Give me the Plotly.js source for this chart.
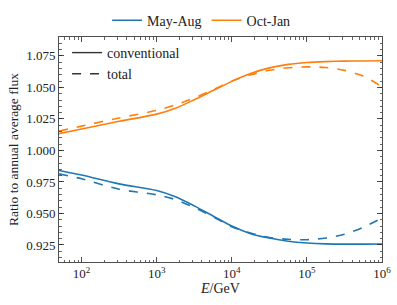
<!DOCTYPE html>
<html>
<head>
<meta charset="utf-8">
<script src="https://cdn.plot.ly/plotly-3.0.1.min.js"></script>
<style>html,body{margin:0;padding:0;background:#fff;}#chart{width:397px;height:305px;}</style>
</head>
<body>
<div id="chart"></div>
<script>
const energy = [50, 1e2, 3.16e2, 1e3, 1.78e3, 3.16e3, 5.62e3, 1e4, 1.78e4, 3.16e4, 5.62e4, 1e5, 1.78e5, 3.16e5, 5.62e5, 1e6];
const mayAugConv = [0.9841, 0.9805, 0.9735, 0.9682, 0.9632, 0.9560, 0.9480, 0.9400, 0.9340, 0.9305, 0.9280, 0.9266, 0.9259, 0.9257, 0.9257, 0.9258];
const mayAugTotal = [0.9814, 0.9775, 0.9692, 0.9648, 0.9610, 0.9548, 0.9474, 0.9395, 0.9345, 0.9310, 0.9295, 0.9292, 0.9305, 0.9335, 0.9390, 0.9464];
const octJanConv = [1.0133, 1.0170, 1.0231, 1.0288, 1.0335, 1.0402, 1.0475, 1.0548, 1.0610, 1.0655, 1.0683, 1.0698, 1.0705, 1.0709, 1.0710, 1.0711];
const octJanTotal = [1.0154, 1.0193, 1.0258, 1.0318, 1.0362, 1.0416, 1.0482, 1.0550, 1.0600, 1.0636, 1.0656, 1.0663, 1.0658, 1.0635, 1.0590, 1.0504];
const seriesNames = ['May-Aug', 'Oct-Jan'];
const styleNames = ['conventional', 'total'];
const xTickVals = [1e2, 1e3, 1e4, 1e5, 1e6];
const xTickText = ['10<sup>2</sup>', '10<sup>3</sup>', '10<sup>4</sup>', '10<sup>5</sup>', '10<sup>6</sup>'];
const yTickVals = [0.925, 0.950, 0.975, 1.000, 1.025, 1.050, 1.075];

const blue = '#1f77b4', orange = '#ff7f0e';
const minorX = [];
for (let d = 1; d <= 5; d++) for (let m = 2; m <= 9; m++) minorX.push(m * Math.pow(10, d));
const minorY = [];
for (let v = 0.915; v <= 1.0901; v += 0.005) minorY.push(+v.toFixed(3));

const traces = [
  {x: energy, y: mayAugConv, name: seriesNames[0], mode: 'lines', line: {color: blue, width: 1.6, shape: 'spline', smoothing: 0.8}, legend: 'legend'},
  {x: energy, y: octJanConv, name: seriesNames[1], mode: 'lines', line: {color: orange, width: 1.6, shape: 'spline', smoothing: 0.8}, legend: 'legend'},
  {x: energy, y: mayAugTotal, name: seriesNames[0] + ' total', mode: 'lines', line: {color: blue, width: 1.6, dash: 'dash', shape: 'spline', smoothing: 0.8}, showlegend: false},
  {x: energy, y: octJanTotal, name: seriesNames[1] + ' total', mode: 'lines', line: {color: orange, width: 1.6, dash: 'dash', shape: 'spline', smoothing: 0.8}, showlegend: false},
  {x: [null], y: [null], name: styleNames[0], mode: 'lines', line: {color: '#333', width: 1.4}, legend: 'legend2'},
  {x: [null], y: [null], name: styleNames[1], mode: 'lines', line: {color: '#333', width: 1.4, dash: 'dash'}, legend: 'legend2'}
];

const fam = '"Times New Roman", Times, "Liberation Serif", serif';
const font = {family: fam, size: 13, color: '#222'};
const layout = {
  width: 397, height: 305,
  margin: {l: 59, r: 15, t: 37, b: 43, autoexpand: false},
  paper_bgcolor: '#fff', plot_bgcolor: '#fff',
  font: font,
  showlegend: true,
  legend: {orientation: 'h', x: 0.44, xanchor: 'center', yref: 'container', y: 0.985, yanchor: 'top', font: {family: fam, size: 14, color: '#222'}, itemwidth: 30, bgcolor: 'rgba(0,0,0,0)'},
  legend2: {orientation: 'v', x: 0.025, xanchor: 'left', y: 1.0, yanchor: 'top', font: {family: fam, size: 14, color: '#222'}, itemwidth: 30, bgcolor: 'rgba(0,0,0,0)', tracegroupgap: 0},
  xaxis: {
    type: 'log', range: [Math.log10(50), 6],
    tickvals: xTickVals, ticktext: xTickText,
    ticks: 'inside', ticklen: 5, tickwidth: 0.8, tickcolor: '#222',
    minor: {tickvals: minorX, ticks: 'inside', ticklen: 2.5, tickwidth: 0.7, tickcolor: '#222', showgrid: false},
    showline: true, linecolor: '#222', linewidth: 0.8, mirror: 'allticks',
    showgrid: false, zeroline: false,
    title: {text: '<i>E</i>/GeV', font: {family: fam, size: 14, color: '#222'}, standoff: 2},
    tickfont: {family: fam, size: 13, color: '#222'}
  },
  yaxis: {
    range: [0.9115, 1.090],
    tickvals: yTickVals, ticktext: yTickVals.map(v => v.toFixed(3)),
    ticks: 'inside', ticklen: 5, tickwidth: 0.8, tickcolor: '#222',
    minor: {tickvals: minorY, ticks: 'inside', ticklen: 2.5, tickwidth: 0.7, tickcolor: '#222', showgrid: false},
    showline: true, linecolor: '#222', linewidth: 0.8, mirror: 'allticks',
    showgrid: false, zeroline: false,
    title: {text: 'Ratio to annual average flux', font: {family: fam, size: 13.5, color: '#222'}, standoff: 4},
    tickfont: {family: fam, size: 13, color: '#222'}
  }
};
Plotly.newPlot('chart', traces, layout, {displayModeBar: false, staticPlot: true});
</script>
</body>
</html>
